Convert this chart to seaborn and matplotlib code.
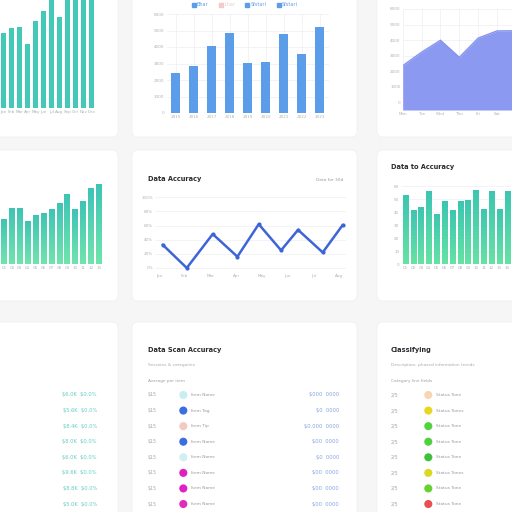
import numpy as np
import matplotlib
matplotlib.use("Agg")
import matplotlib.pyplot as plt
import seaborn as sns
from matplotlib.patches import FancyBboxPatch
from matplotlib.lines import Line2D
from matplotlib.colors import LinearSegmentedColormap

# ---- data ----
monthly_labels = ["Jan", "Feb", "Mar", "Apr", "May", "Jun", "Jul", "Aug", "Sep", "Oct", "Nov", "Dec"]
monthly_values = [75, 80, 81, 64, 87, 97, 116, 91, 112, 119, 114, 110]

year_labels = ["2015", "2016", "2017", "2018", "2019", "2020", "2021", "2022", "2023"]
year_values = [2430, 2820, 4080, 4820, 3040, 3080, 4790, 3590, 5190]
year_ticks = [0, 1000, 2000, 3000, 4000, 5000, 6000]
legend_labels = ["Bhar", "Lhar", "Sfstari", "Sfstari"]
legend_colors = ["#5c9dea", "#f3c9c9", "#5c9dea", "#5c9dea"]

day_labels = ["Mon", "Tue", "Wed", "Thu", "Fri", "Sat"]
area_values = [2350, 3220, 3990, 2890, 4130, 4590, 4600]
area_ticks = [0, 1000, 2000, 3000, 4000, 5000, 6000]

week_labels = ["01", "02", "03", "04", "05", "06", "07", "08", "09", "10", "11", "12", "13"]
week_values = [45, 56, 56, 43, 49, 51, 55, 61, 70, 55, 63, 76, 80]

acc_x = [0.14, 1.08, 2.09, 3.05, 3.88, 4.75, 5.41, 6.37, 7.15]
acc_y = [33, 0, 48, 16, 62, 25, 54, 22, 61]
acc_xlabels = ["Jan", "Feb", "Mar", "Apr", "May", "Jun", "Jul", "Aug"]
acc_yticks = [0, 20, 40, 60, 80, 100]

day14_labels = ["01", "02", "03", "04", "05", "06", "07", "08", "09", "10", "11", "12", "13", "14"]
day14_values = [53, 41, 44, 56, 38, 48, 41, 48, 49, 57, 42, 56, 42, 56]
day14_ticks = [0, 10, 20, 30, 40, 50, 60]

left_rows = [r"\$6.0K  \$0.0%", r"\$5.6K  \$0.0%", r"\$8.4K  \$0.0%", r"\$8.0K  \$0.0%",
             r"\$6.0K  \$0.0%", r"\$9.6K  \$0.0%", r"\$8.8K  \$0.0%", r"\$5.0K  \$0.0%"]

scan_amounts = [r"\$15"] * 8
scan_colors = ["#c9eef2", "#3b6ee0", "#f4c9c2", "#3b6ee0", "#d0eef3", "#e01fc2", "#e21ec8", "#de2cbe"]
scan_names = ["Item Name", "Item Tag", "Item Tip", "Item Name", "Item Name", "Item Name", "Item Name", "Item Name"]
scan_right = [r"\$000  0000", r"\$0  0000", r"\$0.000  0000", r"\$00  0000",
              r"\$0  0000", r"\$00  0000", r"\$00  0000", r"\$00  0000"]

class_codes = ["2/5", "2/5", "2/5", "2/5", "2/5", "2/5", "2/5", "2/5"]
class_colors = ["#f7d6b4", "#e6d81e", "#52d23c", "#4fd03e", "#3fc23b", "#dcd821", "#66d22e", "#e94f50"]
class_names = ["Status Tone", "Status Tones", "Status Tone", "Status Tone",
               "Status Tone", "Status Tones", "Status Tone", "Status Tone"]

sns.set_theme(style="white")
plt.rcParams["font.family"] = ["DejaVu Sans"]

W = 512.0
fig = plt.figure(figsize=(5.12, 5.12), dpi=100, facecolor="#f6f6f7")


def rect(x0, y0, x1, y1):
    # pixel box (top-left origin) -> figure fraction
    return [x0 / W, 1 - y1 / W, (x1 - x0) / W, (y1 - y0) / W]


def ftext(x, y, s, **kw):
    fig.text(x / W, 1 - y / W, s, va="center", **kw)


# card panels
cards = [(-20, -20, 118, 137), (132, -20, 357, 137), (377, -20, 532, 137),
         (-20, 150, 118, 301), (132, 150, 357, 301), (377, 150, 532, 301),
         (-20, 322, 118, 532), (132, 322, 357, 532), (377, 322, 532, 532)]
for x0, y0, x1, y1 in cards:
    r = rect(x0, y0, x1, y1)
    fig.add_artist(FancyBboxPatch((r[0], r[1]), r[2], r[3],
                                  boxstyle="round,pad=0,rounding_size=0.012",
                                  transform=fig.transFigure, facecolor="white",
                                  edgecolor="#f0f0f2", linewidth=0.5, zorder=-1))


def clean(ax, grid=None):
    ax.set_facecolor("none")
    sns.despine(ax=ax, left=True, bottom=True)
    ax.tick_params(length=0, labelsize=3, labelcolor="#b2b2b8", pad=1.5)
    ax.set_xlabel("")
    ax.set_ylabel("")
    if grid:
        ax.grid(axis=grid, color="#efeff2", linewidth=0.5)
        ax.set_axisbelow(True)


def gradient_bars(ax, top, bottom):
    cmap = LinearSegmentedColormap.from_list("g", [bottom, top])
    grad = np.linspace(0, 1, 64).reshape(-1, 1)
    xl, yl = ax.get_xlim(), ax.get_ylim()
    for bar in list(ax.patches):
        x0, y0 = bar.get_xy()
        w, h = bar.get_width(), bar.get_height()
        ax.imshow(grad, extent=[x0, x0 + w, y0, y0 + h], origin="lower",
                  cmap=cmap, aspect="auto", zorder=2)
        bar.set_visible(False)
    ax.set_xlim(xl)
    ax.set_ylim(yl)


# --- top left: teal monthly bars (clipped at top) ---
ax = fig.add_axes(rect(-0.5, -12, 95.5, 108))
sns.barplot(x=monthly_labels, y=monthly_values, color="#44c9b8", saturation=1, width=0.7,
            linewidth=0, ax=ax)
ax.set_ylim(0, 120)
ax.set_yticks([])
clean(ax)

# --- top middle: blue yearly bars ---
ax = fig.add_axes(rect(166.5, 14, 328.5, 113))
sns.barplot(x=year_labels, y=year_values, color="#5c9dea", saturation=1, width=0.52,
            linewidth=0, ax=ax)
ax.set_ylim(0, 6000)
ax.set_yticks(year_ticks)
ax.set_yticklabels([str(t) for t in year_ticks])
clean(ax, grid="both")
handles = [Line2D([0], [0], marker="s", ls="", color=c, markersize=3) for c in legend_colors]
fig.legend(handles, legend_labels, loc="center", bbox_to_anchor=(245 / W, 1 - 5 / W), ncol=4,
           frameon=False, fontsize=3.5, handlelength=0.6, handletextpad=0.4, columnspacing=2.2,
           labelcolor=legend_colors)

# --- top right: area chart ---
ax = fig.add_axes(rect(402.7, 9, 516, 110))
xs = list(range(len(area_values)))
ax.fill_between(xs, area_values, -500, color="#8b99f0", lw=0)
sns.lineplot(x=xs, y=area_values, color="#8593ee", lw=1, ax=ax)
ax.set_xlim(0, 6)
ax.set_ylim(-500, 6000)
ax.set_xticks(range(len(day_labels)))
ax.set_xticklabels(day_labels)
ax.set_yticks(area_ticks)
ax.set_yticklabels([str(t) for t in area_ticks])
clean(ax, grid="both")

# --- middle left: gradient weekly bars ---
ax = fig.add_axes(rect(0.05, 164, 102.75, 264))
sns.barplot(x=week_labels, y=week_values, color="#4fd3b0", saturation=1, width=0.7,
            linewidth=0, ax=ax)
ax.set_ylim(0, 100)
ax.set_yticks([])
clean(ax)
gradient_bars(ax, "#3ec4b6", "#70e4ad")

# --- middle centre: accuracy line ---
ax = fig.add_axes(rect(155, 190.3, 346, 272.2))
sns.lineplot(x=acc_x, y=acc_y, color="#3e65d8", lw=1.8, marker="o", markersize=3,
             markeredgewidth=0, ax=ax)
ax.set_xlim(-0.156, 7.276)
ax.set_ylim(-6, 110)
ax.set_xticks(range(len(acc_xlabels)))
ax.set_xticklabels(acc_xlabels)
ax.set_yticks(acc_yticks)
ax.set_yticklabels([f"{t}%" for t in acc_yticks])
clean(ax, grid="y")
ftext(148, 179, "Data Accuracy", fontsize=4.8, weight="bold", color="#2b2b30")
ftext(343, 180, "Data for 30d", fontsize=3.2, color="#9c9ca4", ha="right")

# --- middle right: gradient daily bars ---
ax = fig.add_axes(rect(401.4, 176, 511, 264))
sns.barplot(x=day14_labels, y=day14_values, color="#4fd8a8", saturation=1, width=0.66,
            linewidth=0, ax=ax)
ax.set_ylim(0, 68)
ax.set_yticks(day14_ticks)
ax.set_yticklabels([str(t) for t in day14_ticks])
clean(ax, grid="y")
gradient_bars(ax, "#3cc6b2", "#66e2a4")
ftext(391, 167.5, "Data to Accuracy", fontsize=4.8, weight="bold", color="#2b2b30")

# --- bottom row: tables ---
rows = list(range(8))

ax = fig.add_axes(rect(0, 387.2, 118, 511.8))
ax.set_xlim(0, 1)
ax.set_ylim(7.5, -0.5)
ax.axis("off")
for i, s in enumerate(left_rows):
    ax.text(0.822, i, s, ha="right", va="center", fontsize=3.7, color="#62cdbd")

ax = fig.add_axes(rect(135, 387.2, 357, 511.8))
keys = [str(i) for i in rows]
sns.scatterplot(x=[0.2176] * 8, y=rows, hue=keys, palette=dict(zip(keys, scan_colors)),
                s=34, edgecolor="none", legend=False, ax=ax)
ax.set_xlim(0, 1)
ax.set_ylim(7.5, -0.5)
ax.axis("off")
for i in rows:
    ax.text(0.0586, i, scan_amounts[i], ha="left", va="center", fontsize=3.4, color="#a8a8b0")
    ax.text(0.251, i, scan_names[i], ha="left", va="center", fontsize=3.2, color="#9a9aa2")
    ax.text(0.919, i, scan_right[i], ha="right", va="center", fontsize=3.7, color="#86a3e2")
ftext(148, 350, "Data Scan Accuracy", fontsize=4.8, weight="bold", color="#2b2b30")
ftext(148, 365, "Sessions & categories", fontsize=3.1, color="#acacb4")
ftext(148, 380.7, "Average per item", fontsize=3.1, color="#a0a0a8")

ax = fig.add_axes(rect(377, 387.2, 532, 511.8))
sns.scatterplot(x=[0.331] * 8, y=rows, hue=keys, palette=dict(zip(keys, class_colors)),
                s=34, edgecolor="none", legend=False, ax=ax)
ax.set_xlim(0, 1)
ax.set_ylim(7.5, -0.5)
ax.axis("off")
for i in rows:
    ax.text(0.09, i, class_codes[i], ha="left", va="center", fontsize=3.4, color="#a8a8b0")
    ax.text(0.381, i, class_names[i], ha="left", va="center", fontsize=3.2, color="#9a9aa2")
ftext(391, 350, "Classifying", fontsize=4.8, weight="bold", color="#2b2b30")
ftext(391, 365, "Description, phased information trends", fontsize=3.1, color="#acacb4")
ftext(391, 380.7, "Category line fields", fontsize=3.1, color="#a0a0a8")

fig.savefig("out.png", dpi=100, facecolor=fig.get_facecolor())
